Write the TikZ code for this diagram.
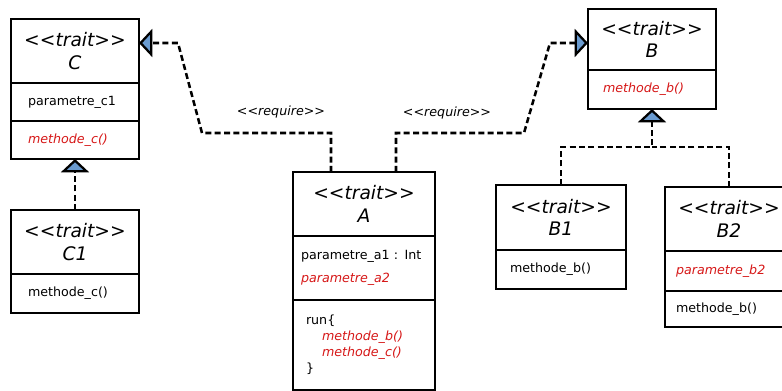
\documentclass[tikz,border=0pt]{standalone}
\usepackage{fontspec}
\setmainfont{DejaVu Sans}
\usepackage{xcolor}
\usetikzlibrary{arrows.meta, positioning}
\definecolor{umlred}{RGB}{214, 24, 24}
\definecolor{tipblue}{RGB}{106, 155, 208}
\newcommand{\stereo}[1]{\textit{<\kern0pt<#1>\kern0pt>}}
\newcommand{\redit}[1]{\textcolor{umlred}{\textit{#1}}}

\begin{document}
\begin{tikzpicture}[x=0.75pt, y=0.75pt,
    classtitle/.style={draw, line width=2.1pt, outer sep=0pt, anchor=north west,
      inner xsep=0pt, align=center, font=\fontsize{14}{17}\selectfont},
    classpart/.style={draw, line width=2.1pt, outer sep=0pt, align=left,
      font=\fontsize{9.5}{12}\selectfont},
    require/.style={line width=1.9pt, dash pattern=on 4.5pt off 2.5pt,
      -{Triangle[length=10pt, width=21pt, fill=tipblue, line width=1.7pt]}},
    dashline/.style={line width=1.9pt, dash pattern=on 4.5pt off 2.5pt},
    reqlabel/.style={font=\fontsize{9.5}{11}\selectfont\itshape}]
  \useasboundingbox (0,0) rectangle (782,-391);
  % ── Trait C ──
  \node[classtitle, text width=96pt, minimum height=48pt] (C-title) at (11,-19)
    {\stereo{trait}\\\textit{C}};
  \node[classpart, below=0pt of C-title, text width=70.5pt, inner xsep=12.75pt,
    minimum height=28.5pt] (C-attrs) {parametre\_c1};
  \node[classpart, below=0pt of C-attrs, text width=70.5pt, inner xsep=12.75pt,
    minimum height=28.5pt] (C-methods) {\redit{methode\_c()}};
  % ── Trait C1 ──
  \node[classtitle, text width=96pt, minimum height=48pt] (C1-title) at (11,-210)
    {\stereo{trait}\\\textit{C1}};
  \node[classpart, below=0pt of C1-title, text width=70.5pt, inner xsep=12.75pt,
    minimum height=29.25pt] (C1-methods) {methode\_c()};
  % ── Trait A ──
  \node[classtitle, text width=106.5pt, minimum height=48pt] (A-title) at (293,-172)
    {\stereo{trait}\\\textit{A}};
  \node[classpart, below=0pt of A-title, text width=94.5pt, inner xsep=6pt,
    minimum height=48pt] (A-attrs)
    {parametre\_a1 : Int\\[5pt]\redit{parametre\_a2}};
  \node[classpart, below=0pt of A-attrs, text width=87pt, inner xsep=9.75pt,
    minimum height=67.5pt] (A-methods)
    {run\{\\\hspace*{12pt}\redit{methode\_b()}\\\hspace*{12pt}\redit{methode\_c()}\\\}};
  % ── Trait B ──
  \node[classtitle, text width=96pt, minimum height=45.75pt] (B-title) at (588,-9)
    {\stereo{trait}\\\textit{B}};
  \node[classpart, below=0pt of B-title, text width=73.5pt, inner xsep=11.25pt,
    minimum height=29.25pt] (B-methods) {\redit{methode\_b()}};
  % ── Trait B1 ──
  \node[classtitle, text width=97.5pt, minimum height=48.75pt] (B1-title) at (496,-185)
    {\stereo{trait}\\\textit{B1}};
  \node[classpart, below=0pt of B1-title, text width=76.5pt, inner xsep=10.5pt,
    minimum height=29.25pt] (B1-methods) {methode\_b()};
  % ── Trait B2 ──
  \node[classtitle, text width=96pt, minimum height=48pt] (B2-title) at (665,-187)
    {\stereo{trait}\\\textit{B2}};
  \node[classpart, below=0pt of B2-title, text width=79.5pt, inner xsep=8.25pt,
    minimum height=30pt] (B2-attrs) {\redit{parametre\_b2}};
  \node[classpart, below=0pt of B2-attrs, text width=79.5pt, inner xsep=8.25pt,
    minimum height=27pt] (B2-methods) {methode\_b()};
  % ── Require links ──
  \coordinate (reqC-low) at (202,-133);
  \coordinate (reqC-high) at (178,-43);
  \coordinate (reqB-low) at (524,-133);
  \coordinate (reqB-high) at (550,-43);
  \draw[require] ([xshift=-24.75pt]A-title.north) |- (reqC-low) -- (reqC-high)
    -- (reqC-high -| C-title.east);
  \draw[require] ([xshift=24pt]A-title.north) |- (reqB-low) -- (reqB-high)
    -- (reqB-high -| B-title.west);
  \node[reqlabel] (reqC-label) at (281,-112) {<\kern0pt<require>\kern0pt>};
  \node[reqlabel] (reqB-label) at (447,-113) {<\kern0pt<require>\kern0pt>};
  % ── Inheritance ──
  \coordinate (B-join) at (652,-147);
  \draw[require] (C1-title.north) -- (C-methods.south);
  \draw[require] (B1-title.north) |- (B-join) -- (B-methods.south);
  \draw[dashline] (B2-title.north) |- (B-join);
\end{tikzpicture}
\end{document}
